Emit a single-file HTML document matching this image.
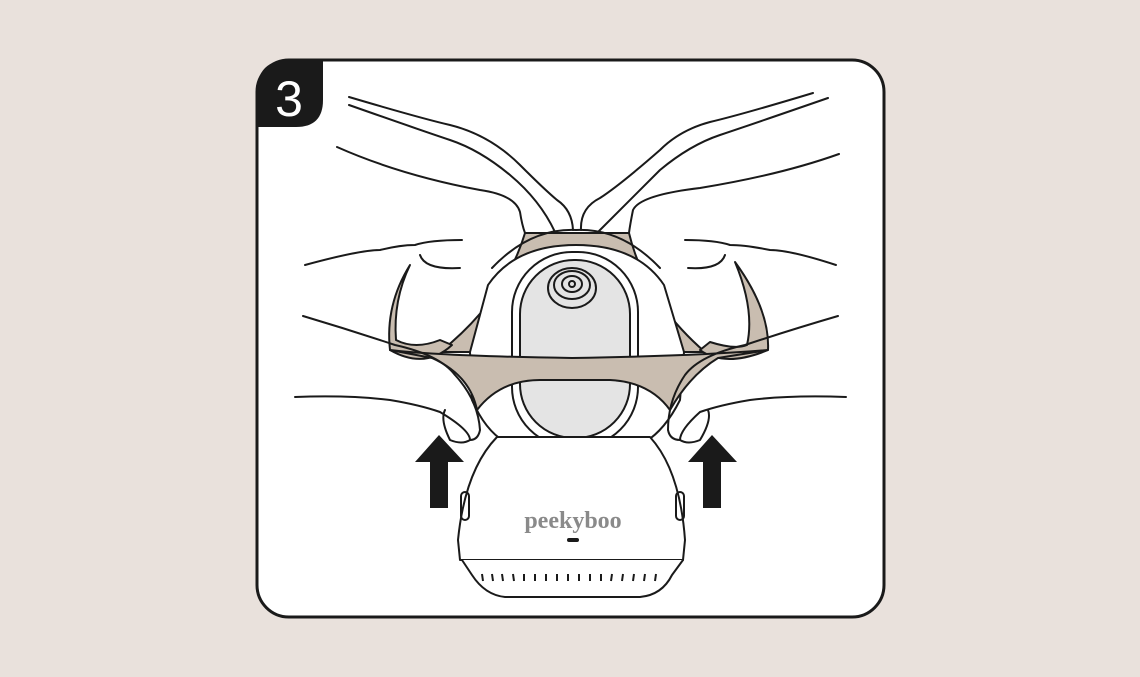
<!DOCTYPE html>
<html><head><style>
html,body{margin:0;padding:0;background:#e9e1dc;}
svg{display:block}
</style></head><body>
<svg width="1140" height="677" viewBox="0 0 1140 677" xmlns="http://www.w3.org/2000/svg">
<rect width="1140" height="677" fill="#e9e1dc"/>
<rect x="257" y="60" width="627" height="557" rx="32" fill="#fff" stroke="#1a1a1a" stroke-width="3"/>
<path d="M257 92 Q257 60 289 60 L323 60 L323 100 Q323 127 296 127 L257 127 Z" fill="#1a1a1a"/>
<text x="289" y="116" font-family="Liberation Sans, sans-serif" font-size="50" fill="#fff" text-anchor="middle">3</text>
<g fill="none" stroke="#1a1a1a" stroke-width="2" stroke-linecap="round" stroke-linejoin="round">
<path d="M349 97 Q420 118 450 125 Q490 135 520 165 Q545 190 557 200 Q572 210 573 230"/>
<path d="M349 105 Q420 130 450 140 Q480 150 510 175 Q540 200 555 232"/>
<path d="M337 147 Q400 175 480 190 Q515 195 520 212 Q522 225 525 233"/>
<path d="M813 93 Q740 115 710 122 Q680 130 660 150 Q620 185 600 198 Q580 208 581 230"/>
<path d="M828 98 Q750 125 720 135 Q690 145 660 170 Q630 200 598 232"/>
<path d="M839 154 Q780 175 700 188 Q640 195 633 210 Q630 225 629 233"/>
<path d="M525 233 L629 233 Q645 300 705 352 L440 352 Q505 300 525 233 Z" fill="#c9bdb0"/>
<path d="M410 265 Q385 305 390 350 Q425 370 452 345 L440 340 Q415 350 396 340 Q393 300 410 265 Z" fill="#c9bdb0"/>
<path d="M735 262 Q770 310 768 350 Q725 368 700 350 L710 342 Q735 350 747 345 Q755 310 735 262 Z" fill="#c9bdb0"/>
<path d="M470 352 L488 285 Q515 245 576 245 Q637 245 664 285 L684 352 L680 400 Q665 430 645 442 L505 442 Q485 430 472 400 Z" fill="#fff"/>
<path d="M492 268 Q530 228 576 230 Q622 228 660 268"/>
<rect x="512" y="252" width="126" height="195" rx="60" fill="#fff"/>
<rect x="520" y="260" width="110" height="178" rx="54" fill="#e4e4e4"/>
<ellipse cx="572" cy="288" rx="24" ry="20" fill="#e4e4e4"/>
<ellipse cx="572" cy="285" rx="18" ry="14"/>
<ellipse cx="572" cy="284" rx="10" ry="8"/>
<ellipse cx="572" cy="284" rx="3" ry="3"/>
<path d="M390 350 Q440 356 572 358 Q700 356 768 350 L718 358 Q690 375 670 410 Q650 382 610 380 L540 380 Q500 380 477 410 Q470 375 432 358 Z" fill="#c9bdb0"/>
<path d="M305 265 Q360 250 380 250 Q400 245 415 245 Q430 240 462 240"/>
<path d="M303 316 Q350 330 395 345 Q440 355 455 375 Q478 400 480 430 Q478 440 470 440"/>
<path d="M295 397 Q350 395 390 400 Q420 405 440 412 Q470 430 470 440 Q462 445 450 440 Q440 420 445 410"/>
<path d="M836 265 Q790 250 770 250 Q745 245 730 245 Q715 240 685 240"/>
<path d="M838 316 Q790 330 745 345 Q700 355 685 375 Q668 400 668 430 Q670 440 680 440"/>
<path d="M846 397 Q790 395 750 400 Q720 405 700 412 Q680 430 680 440 Q688 445 700 440 Q712 420 708 410"/>
<path d="M420 255 Q425 270 460 268"/><path d="M725 255 Q720 270 688 268"/>
<path d="M497 437 L650 437 Q680 470 685 540 L683 560 L460 560 L458 540 Q465 470 497 437 Z" fill="#fff"/>
<path d="M462 560 L472 575 Q485 595 505 597 L640 597 Q662 595 672 575 L683 560" fill="#fff"/>
<rect x="461" y="492" width="8" height="28" rx="4"/>
<rect x="676" y="492" width="8" height="28" rx="4"/>
</g>
<g stroke="#1a1a1a" stroke-width="2">
<line x1="482" y1="574" x2="483" y2="581"/><line x1="492" y1="574" x2="493" y2="581"/><line x1="502" y1="574" x2="503" y2="581"/><line x1="513" y1="574" x2="514" y2="581"/><line x1="524" y1="574" x2="524" y2="581"/><line x1="535" y1="574" x2="535" y2="581"/><line x1="546" y1="574" x2="546" y2="581"/><line x1="557" y1="574" x2="557" y2="581"/><line x1="568" y1="574" x2="568" y2="581"/><line x1="579" y1="574" x2="579" y2="581"/><line x1="590" y1="574" x2="590" y2="581"/><line x1="601" y1="574" x2="601" y2="581"/><line x1="612" y1="574" x2="611" y2="581"/><line x1="623" y1="574" x2="622" y2="581"/><line x1="634" y1="574" x2="633" y2="581"/><line x1="645" y1="574" x2="644" y2="581"/><line x1="656" y1="574" x2="655" y2="581"/>
</g>
<rect x="567" y="538" width="12" height="4" rx="2" fill="#1a1a1a"/>
<text x="573" y="528" font-family="Liberation Serif, serif" font-size="24" font-weight="bold" fill="#8a8a8a" text-anchor="middle">peekyboo</text>
<path d="M430 508 L448 508 L448 462 L464 462 L439 435 L415 462 L430 462 Z" fill="#1a1a1a"/>
<path d="M703 508 L721 508 L721 462 L737 462 L712 435 L688 462 L703 462 Z" fill="#1a1a1a"/>
</svg>
</body></html>
